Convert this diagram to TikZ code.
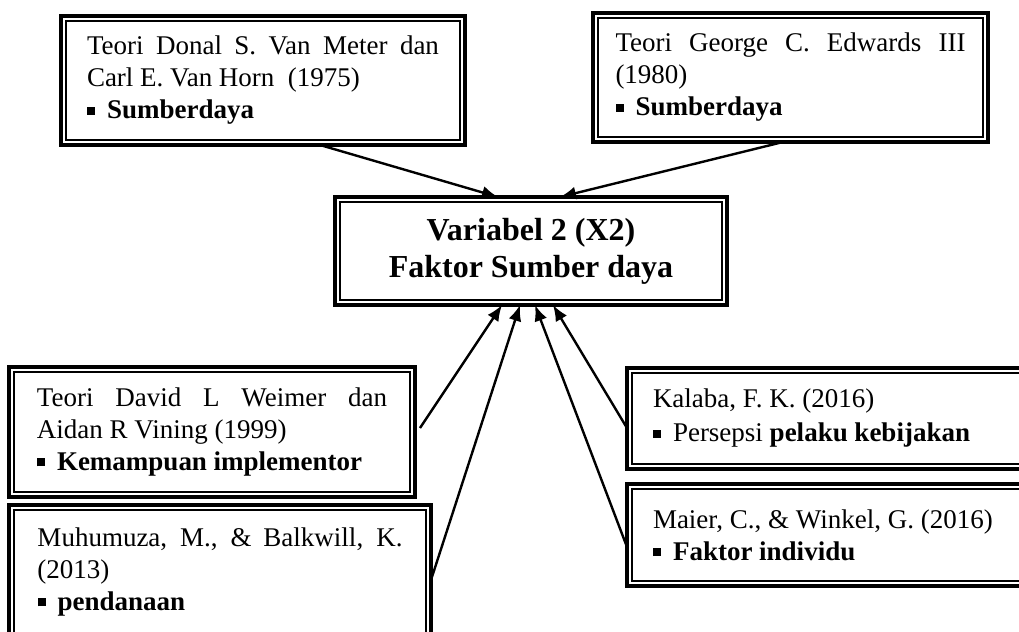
\documentclass[tikz,border=0pt]{standalone}
\usepackage{fontspec}
\setmainfont{Liberation Serif}
\usepackage{tikz}
\usetikzlibrary{positioning}
\usetikzlibrary{calc}
\usetikzlibrary{arrows.meta}
\newcommand{\bulsq}{\rule[2pt]{4pt}{4pt}\hspace{6pt}}
\tikzset{every picture/.style={line width=1.2pt},
  teori/.style={draw, line width=1.8pt, inner ysep=0pt, outer sep=0pt, align=justify, font=\fontsize{13.5}{16}\selectfont},
  inner frame/.style={line width=0.9pt},
  panah/.style={-{Latex[length=8pt,width=6.5pt]}}}
\begin{document}
\begin{tikzpicture}[x=0.5pt,y=-0.5pt]
\useasboundingbox (0,0) rectangle (1019,632);
\clip (0,0) rectangle (1019,632);
\node (vanmeter) [teori, text width=176pt, inner xsep=13pt, minimum height=64.5pt] at (263,80.5) {Teori Donal S. Van Meter dan\linebreak Carl E. Van Horn~ (1975)\\ \bulsq\textbf{Sumberdaya}};
\node (edwards) [teori, text width=175pt, inner xsep=11.25pt, minimum height=64.5pt] at (790.5,77.5) {Teori George C. Edwards III\linebreak (1980)\\ \bulsq\textbf{Sumberdaya}};
\node (variabel) [teori, align=center, minimum width=196pt, minimum height=54pt, font=\fontsize{16}{18.5}\selectfont\bfseries] at (531,251) {Variabel 2 (X2)\\Faktor Sumber daya};
\node (weimer) [teori, text width=175pt, inner xsep=14pt, minimum height=65pt] at (212,432) {Teori David L Weimer dan\linebreak Aidan R Vining (1999)\\ \bulsq\textbf{Kemampuan implementor}};
\node (muhumuza) [teori, text width=182.5pt, inner xsep=14.25pt, minimum height=67pt] at (220,572) {Muhumuza, M., \& Balkwill, K.\linebreak (2013)\\ \bulsq\textbf{pendanaan}};
\node (kalaba) [teori, text width=175.5pt, inner xsep=13pt, minimum height=50.5pt] at (828.5,418.5) {Kalaba, F. K. (2016)\\[1pt] \bulsq Persepsi \textbf{pelaku kebijakan}};
\node (maier) [teori, text width=175.5pt, inner xsep=13pt, minimum height=51pt, below=7.5pt of kalaba] {Maier, C., \& Winkel, G. (2016)\\ \bulsq\textbf{Faktor individu}};

\foreach \n in {vanmeter,edwards,variabel,weimer,muhumuza,kalaba,maier}
  \draw[inner frame] ([shift={(2.4pt,-2.4pt)}]\n.north west) rectangle ([shift={(-2.4pt,2.4pt)}]\n.south east);

\draw[panah] ([xshift=28.5pt]vanmeter.south) -- ([xshift=-16.5pt]variabel.north);
\draw[panah] ([xshift=-3.75pt]edwards.south) -- ([xshift=14.5pt]variabel.north);
\draw[panah] ([shift={(2.5pt,2pt)}]weimer.east) -- ([xshift=-14.5pt]variabel.south);
\draw[panah] ([yshift=-4pt]muhumuza.east) -- ([xshift=-5.5pt]variabel.south);
\draw[panah] ([yshift=-4.75pt]kalaba.west) -- ([xshift=11pt]variabel.south);
\draw[panah] ([yshift=-6pt]maier.west) -- ([xshift=2pt]variabel.south);
\end{tikzpicture}
\end{document}
